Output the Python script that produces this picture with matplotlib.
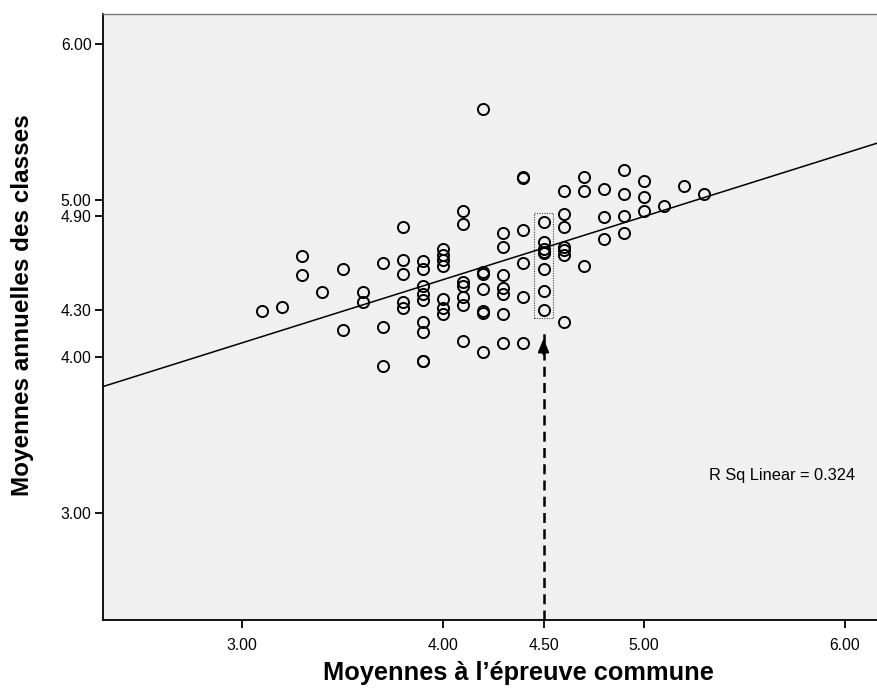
import numpy as np
import matplotlib
matplotlib.use('Agg')
import matplotlib.pyplot as plt
from matplotlib.patches import Rectangle

plt.rcParams['font.family'] = ['Liberation Sans', 'DejaVu Sans']

# moyennes a l'epreuve commune (x) / moyennes annuelles (y)
cols = {
    3.1: [4.29],
    3.2: [4.32],
    3.3: [4.64, 4.52],
    3.4: [4.41],
    3.5: [4.56, 4.17],
    3.6: [4.41, 4.35],
    3.7: [4.60, 4.19, 3.94],
    3.8: [4.83, 4.62, 4.53, 4.35, 4.31],
    3.9: [4.61, 4.56, 4.45, 4.40, 4.36, 4.22, 4.16, 3.97, 3.97],
    4.0: [4.69, 4.65, 4.62, 4.58, 4.37, 4.31, 4.27],
    4.1: [4.93, 4.85, 4.48, 4.45, 4.38, 4.33, 4.10],
    4.2: [5.58, 4.54, 4.53, 4.43, 4.29, 4.28, 4.03],
    4.3: [4.79, 4.70, 4.52, 4.44, 4.40, 4.27, 4.09],
    4.4: [5.15, 5.14, 4.81, 4.60, 4.38, 4.09],
    4.5: [4.86, 4.73, 4.69, 4.67, 4.66, 4.56, 4.42, 4.30],
    4.6: [5.06, 4.91, 4.83, 4.70, 4.68, 4.65, 4.22],
    4.7: [5.15, 5.06, 4.58],
    4.8: [5.07, 4.89, 4.75],
    4.9: [5.19, 5.04, 4.90, 4.79],
    5.0: [5.12, 5.02, 4.93],
    5.1: [4.96],
    5.2: [5.09],
    5.3: [5.04],
}
x = np.array([k for k, v in cols.items() for _ in v])
y = np.array([yy for k, v in cols.items() for yy in v])

x_ticks = [3.0, 4.0, 4.5, 5.0, 6.0]
y_ticks = [3.0, 4.0, 4.3, 4.9, 5.0, 6.0]
r2_text = 'R Sq Linear = 0.324'
col_mark = 4.5

slope, intercept = np.polyfit(x, y, 1)

fig = plt.figure(figsize=(8.77, 6.98), dpi=100)
ax = fig.add_axes([0.1171, 0.1117, 0.8829, 0.8682])
ax.set_facecolor('#f0f0f0')

ax.set_xlim(2.307, 6.159)
ax.set_ylim(2.316, 6.19)

xl = np.array(ax.get_xlim())
ax.plot(xl, intercept + slope * xl, color='black', lw=1.1, zorder=2)

ax.plot(x, y, 'o', mfc='none', mec='black', ms=8, mew=1.4, zorder=3)

# cadre autour de la colonne 4.50
cy = np.array(cols[col_mark])
ax.add_patch(Rectangle((col_mark - 0.045, cy.min() - 0.055), 0.09,
                       cy.max() - cy.min() + 0.11, fill=False,
                       ls=(0, (1, 1.2)), lw=0.8, ec='#444444', zorder=4))

# fleche en pointilles
tip = cy.min() - 0.185
ax.plot([col_mark, col_mark], [ax.get_ylim()[0], tip + 0.05], color='black',
        lw=1.8, ls=(0, (4, 2.5)), zorder=4, clip_on=False)
ax.annotate('', xy=(col_mark, tip), xytext=(col_mark, tip - 0.1),
            arrowprops=dict(arrowstyle='-|>,head_length=0.8,head_width=0.33',
                            color='black', lw=1.5, shrinkA=0, shrinkB=0))

ax.text(6.05, 3.237, r2_text, fontsize=11.8, ha='right', va='center')

ax.set_xticks(x_ticks)
ax.set_xticklabels(['%.2f' % t for t in x_ticks])
ax.set_yticks(y_ticks)
ax.set_yticklabels(['%.2f' % t for t in y_ticks])
ax.tick_params(direction='out', length=6, width=1.3, labelsize=11.3, pad=2)
ax.tick_params(axis='x', pad=7)

for s in ['left', 'bottom']:
    ax.spines[s].set_linewidth(1.3)
ax.spines['top'].set_color('#777777')
ax.spines['top'].set_linewidth(1.0)
ax.spines['right'].set_visible(False)

fig.text(0.591, 0.036, 'Moyennes à l’épreuve commune', fontsize=18.3,
         fontweight='bold', ha='center', va='center')
fig.text(0.026, 1 - 305 / 698, 'Moyennes annuelles des classes', fontsize=17.5,
         fontweight='bold', ha='center', va='center', rotation=90)

fig.savefig('out.png', dpi=100)
